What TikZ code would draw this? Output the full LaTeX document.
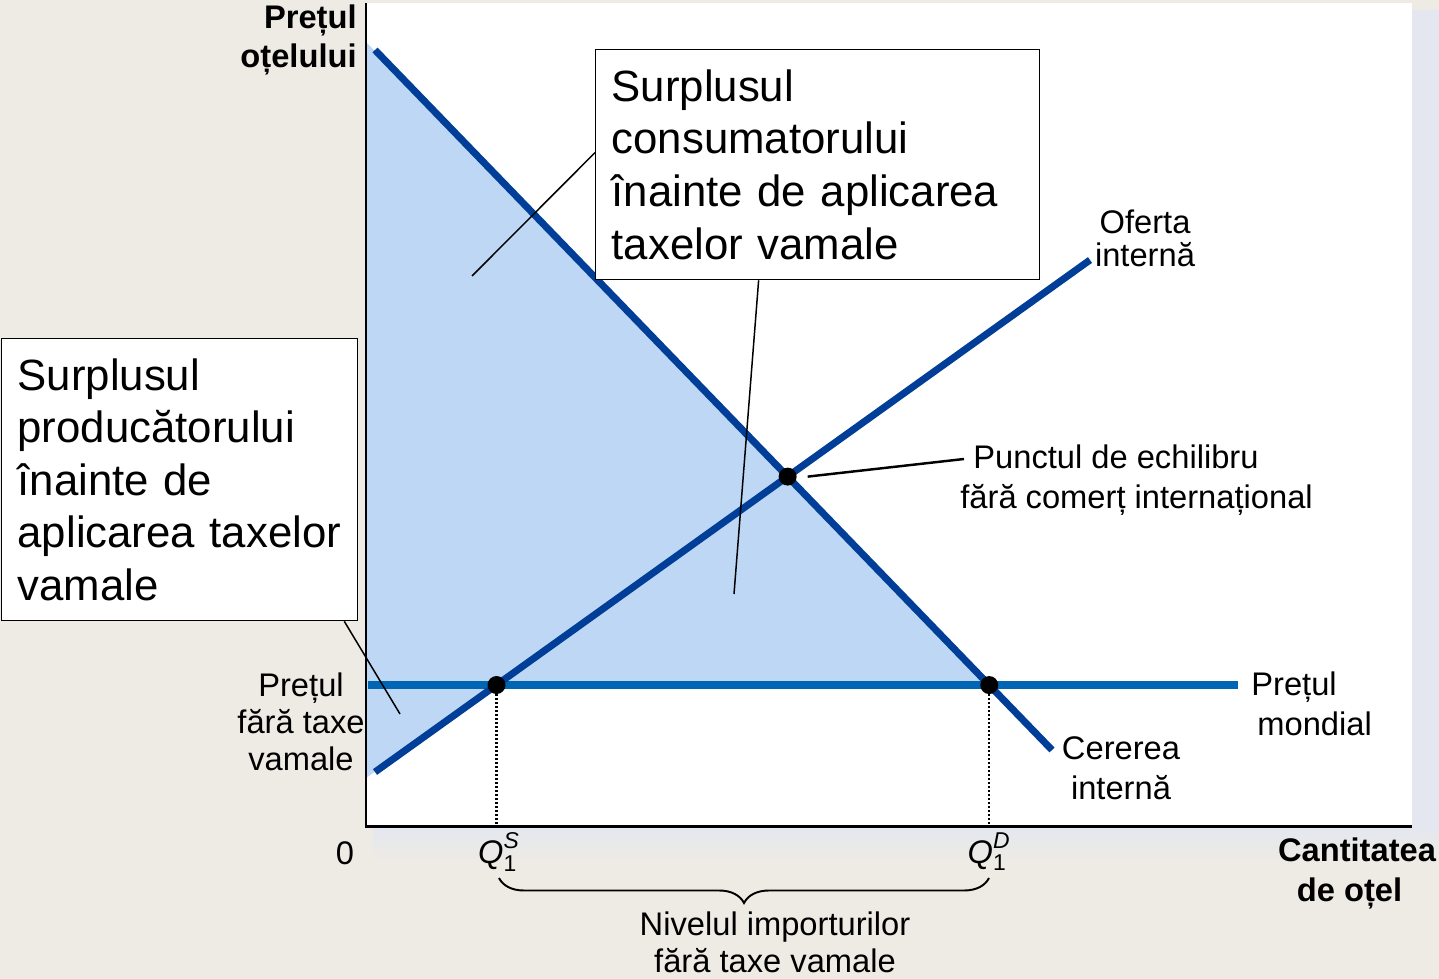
\documentclass[tikz,border=0pt]{standalone}
\usepackage{amsmath}
\usepackage{fontspec}
\setmainfont{Liberation Sans}
\usepackage{tikz}
\usetikzlibrary{decorations.pathreplacing,positioning}
\definecolor{bgbeige}{RGB}{238,235,228}
\definecolor{shadowlav}{RGB}{228,231,240}
\definecolor{surplusblue}{RGB}{189,215,245}
\definecolor{curveblue}{RGB}{0,62,152}
\definecolor{priceblue}{RGB}{0,101,178}

\begin{document}
\begin{tikzpicture}[x=0.02cm, y=-0.02cm,
    curve/.style={line width=4pt, curveblue},
    pointer/.style={line width=0.85pt},
    guide/.style={line width=1.4pt, dash pattern=on 0.04cm off 0.04cm},
    dot/.style={circle, fill=black, inner sep=0pt, minimum size=0.36cm},
    lbl/.style={font=\fontsize{18.6}{22.7}\selectfont, align=center, inner sep=0pt},
    bigbox/.style={draw, line width=0.75pt, fill=white, anchor=north west,
      inner xsep=0.32cm, inner ysep=0pt, align=left,
      font=\fontsize{24.9}{29.9}\selectfont}]

   % background
   \fill[bgbeige] (0,0) rectangle (1439,979);
   \fill[shadowlav] (1412,10) rectangle (1439,826);
   \shade[top color=shadowlav, bottom color=bgbeige] (373,826) rectangle (1439,862);
   \fill[white] (366,3) rectangle (1412,826);

   % vertices
   \coordinate (o) at (366,826);
   \coordinate (ytop) at (366,3);
   \coordinate (xend) at (1412,826);
   \coordinate (dtop) at (375,50);
   \coordinate (dbot) at (1052,750);
   \coordinate (sbot) at (375,772);
   \coordinate (stop) at (1090,260);
   \coordinate (wl) at (368,685);
   \coordinate (wr) at (1238,685);
   \coordinate (fa) at (366,42);
   \coordinate (fb) at (366,778);
   \coordinate (ps) at (intersection of sbot--stop and wl--wr);
   \coordinate (pd) at (intersection of dtop--dbot and wl--wr);
   \coordinate (pe) at (intersection of dtop--dbot and sbot--stop);

   % surplus area
   \fill[surplusblue] (fa) -- (pd) -- (ps) -- (fb) -- cycle;

   % draw diagram
   \draw[priceblue, line width=4pt] (wl) -- (wr);
   \draw[curve] (dtop) -- (dbot);
   \draw[curve] (sbot) -- (stop);
   \node[dot] (dotS) at (ps) {};
   \node[dot] (dotD) at (pd) {};
   \node[dot] (dotE) at (pe) {};
   \draw[guide] (dotS) -- (dotS |- o);
   \draw[guide] (dotD) -- (dotD |- o);
   \draw[line width=1.7pt] (ytop) -- (o) -- (xend);

   % labels
   \node[lbl, anchor=east, align=right, font=\fontsize{18.6}{22.7}\selectfont\bfseries] (ylab) at (357,40) {Prețul\\oțelului};
   \node[lbl, font=\fontsize{18.6}{22.7}\selectfont\bfseries] (xlab) at (1357,873) {Cantitatea\\de oțel\hspace*{0.3cm}};
   \node[lbl] (zero) at (345,853) {0};
   \node[lbl] (qsl) at (499,852) {$\textit{Q}_{\textup{1}}^{\textit{S}}$};
   \node[lbl] (qdl) at (989,852) {$\textit{Q}_{\textup{1}}^{\textit{D}}$};
   \node[lbl, font=\fontsize{18.6}{18.7}\selectfont] (olab) at (1145,238) {Oferta\\internă};
   \node[lbl] (dlab) at (1121,768) {Cererea\\internă};
   \node[lbl, anchor=west, align=left] (wlab) at (1251,704) {Prețul\\\hspace*{0.12cm}mondial};
   \node[lbl, font=\fontsize{18.6}{21}\selectfont] (plab) at (301,722) {Prețul\\fără taxe\\vamale};
   \node[lbl, anchor=west, align=left] (elab) at (960,480) {\hspace*{0.26cm}Punctul de echilibru\\fără comerț internațional};
   \node[lbl, font=\fontsize{18.6}{21}\selectfont] (nlab) at (775,942) {Nivelul importurilor\\fără taxe vamale};

   % brace
   \coordinate (bl) at (499,878);
   \coordinate (br) at (989,878);
   \draw[line width=1.1pt, decorate, decoration={brace, mirror, amplitude=0.5cm}] (bl) -- (br);

   % boxes
   \node[bigbox, text width=8.24cm, minimum height=4.6cm] (csbox) at (595,49)
     {Surplusul\\consumatorului\\înainte de aplicarea\\taxelor vamale};
   \node[bigbox, text width=6.48cm, minimum height=5.64cm] (psbox) at (1,338)
     {Surplusul\\producătorului\\înainte de\\aplicarea taxelor\\vamale};

   % pointers
   \coordinate (csa) at (472,276);
   \coordinate (csb) at (734,594);
   \coordinate (psa) at (400,714);
   \coordinate (ep) at (964,459);
   \draw[pointer] ([yshift=0.24cm]csbox.west) -- (csa);
   \draw[pointer] ([xshift=-1.18cm]csbox.south) -- (csb);
   \draw[pointer] ([xshift=-0.28cm]psbox.south east) -- (psa);
   \draw[line width=1.4pt] ([xshift=0.4cm]pe) -- (ep);
\end{tikzpicture}
\end{document}
